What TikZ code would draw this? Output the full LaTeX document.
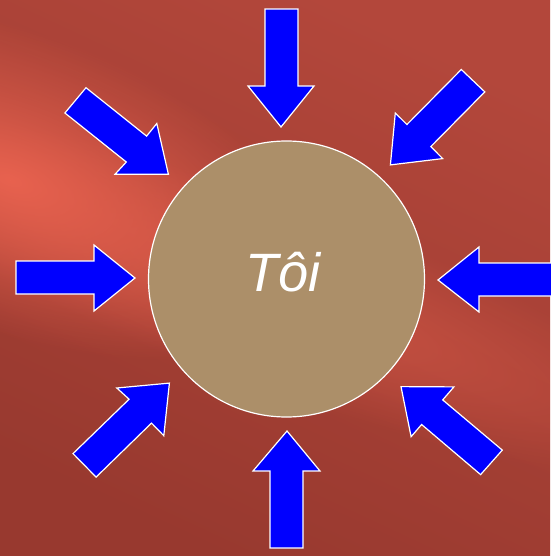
\documentclass[tikz,border=0pt]{standalone}
\usepackage{fontspec}
\setmainfont{Liberation Sans}
\usetikzlibrary{fadings}
\definecolor{bgTop}{HTML}{B3473B}
\definecolor{bgBot}{HTML}{98392F}
\definecolor{streak}{HTML}{E8624F}
\definecolor{disc}{HTML}{AC8F69}
\definecolor{arrowblue}{HTML}{0000FF}
\tikzfading[name=glow, inner color=transparent!0, outer color=transparent!100]
\tikzset{
  blockarrow/.style={fill=arrowblue, draw=white, line width=1.2pt, line join=miter},
  centre/.style={circle, fill=disc, draw=white, line width=1.2pt, minimum size=276pt, inner sep=0pt},
}
\begin{document}
\begin{tikzpicture}[x=1pt,y=-1pt]
\useasboundingbox (0,0) rectangle (550,556);
% background
\shade[top color=bgTop, bottom color=bgBot, shading angle=-25] (0,0) rectangle (550,556);
\begin{scope}
\clip (0,0) rectangle (550,556);
\begin{scope}[transform canvas={rotate around={-20:(275,295)}}]
\fill[streak, opacity=0.55, path fading=glow, fit fading=true] (275,295) ellipse [x radius=480pt, y radius=95pt];
\end{scope}
\begin{scope}[transform canvas={rotate around={-20:(10,180)}}]
\fill[streak, opacity=1, path fading=glow, fit fading=true] (10,180) ellipse [x radius=330pt, y radius=150pt];
\end{scope}
\end{scope}
% centre disc
\node[centre] (me) at (286.5,279) {};
\node[anchor=base, text=white, font=\itshape\fontsize{54}{54}\selectfont] (label) at (283,291) {Tôi};
% arrows
\draw[blockarrow] (265,9) -- (298,9) -- (298,86) -- (314,86) -- (281,127) -- (248,86) -- (265,86) -- cycle;
\draw[blockarrow] (16,261) -- (94,261) -- (94,245) -- (135,278) -- (94,311) -- (94,294) -- (16,294) -- cycle;
\draw[blockarrow] (560,263) -- (479,263) -- (479,247) -- (438,280) -- (479,312) -- (479,296) -- (560,296) -- cycle;
\draw[blockarrow] (287,431) -- (320,471) -- (303,471) -- (303,548) -- (270,548) -- (270,471) -- (253,471) -- cycle;
\draw[blockarrow] (64.9,113) -- (86,87.7) -- (146.6,136.1) -- (156.8,123.5) -- (168.4,174.3) -- (115,174.3) -- (126.3,162) -- cycle;
\draw[blockarrow] (461.3,69.5) -- (484.8,91.9) -- (430.8,146.6) -- (442.7,158.6) -- (390.4,164.9) -- (395.3,113) -- (406.9,124.5) -- cycle;
\draw[blockarrow] (73,453.6) -- (96.1,477.1) -- (151.5,423.1) -- (163.8,435.7) -- (169.4,383.1) -- (116.8,388) -- (129.1,399.2) -- cycle;
\draw[blockarrow] (502.3,450.1) -- (480.6,474.6) -- (421.6,424.5) -- (411.1,436.7) -- (401,386.6) -- (453.9,386.9) -- (442.7,399.9) -- cycle;
\end{tikzpicture}
\end{document}
